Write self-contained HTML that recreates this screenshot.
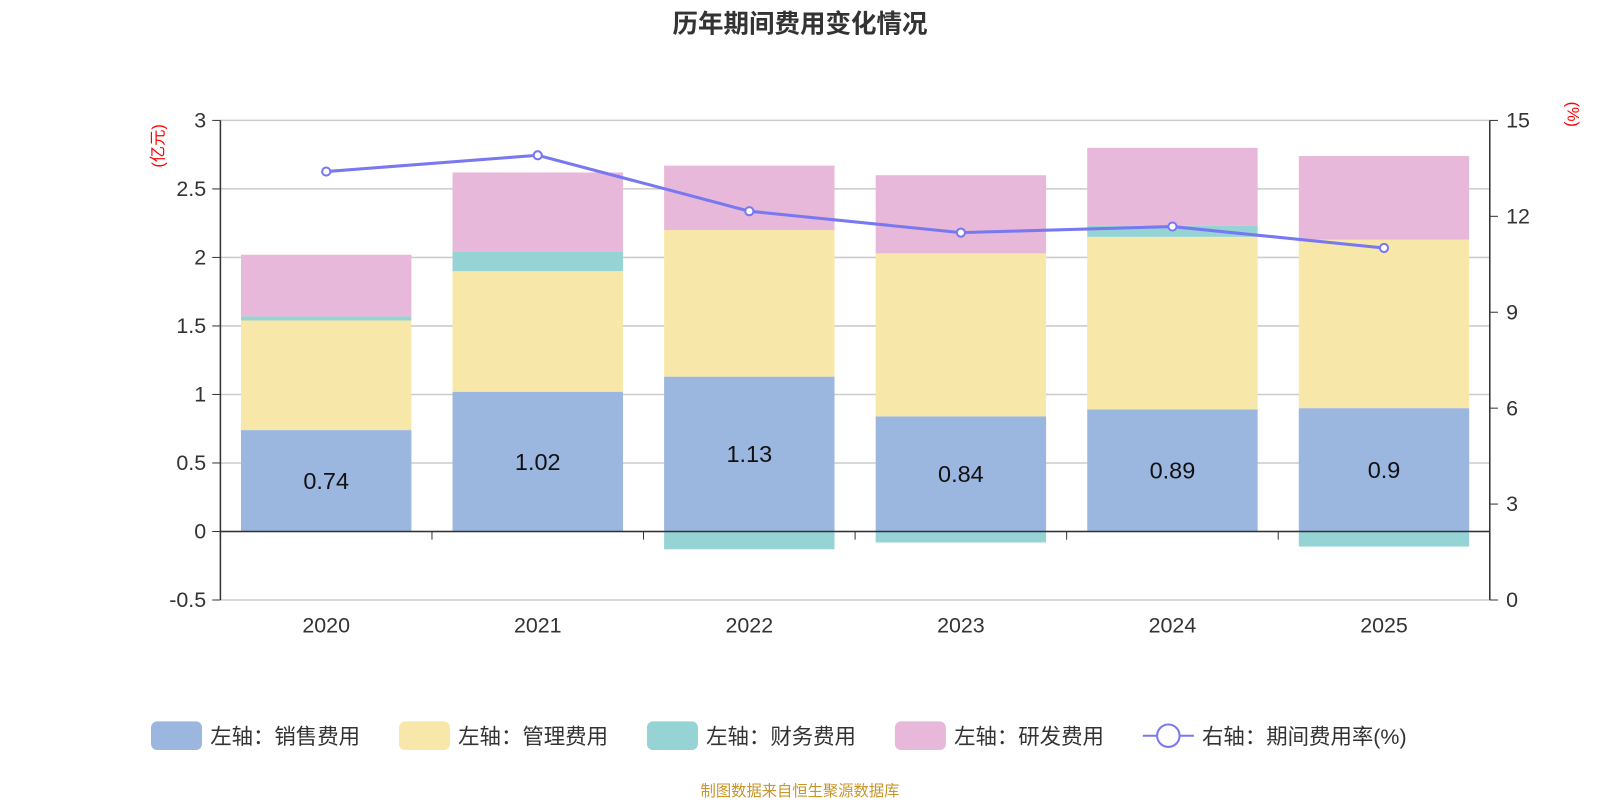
<!DOCTYPE html>
<html><head><meta charset="utf-8"><style>
body{margin:0;background:#fff;font-family:"Liberation Sans","Noto Sans CJK SC",sans-serif}
svg text{font-family:"Liberation Sans","Noto Sans CJK SC",sans-serif}
</style></head><body>
<svg id="c" width="1600" height="800">
<g transform="scale(1.0204)">
<text x="784" y="32" text-anchor="middle" font-size="25" font-weight="bold" fill="#333">历年期间费用变化情况</text>
<text transform="translate(160,143) rotate(-90)" text-anchor="middle" font-size="16" fill="#f00">(亿元)</text>
<text transform="translate(1536,112) rotate(90)" text-anchor="middle" font-size="16" fill="#f00">(%)</text>
<g id="grid"></g><g id="bars"></g><g id="axes"></g><g id="line"></g>
<g id="legend"></g>
<text x="784" y="780" text-anchor="middle" font-size="15" fill="#c8962a">制图数据来自恒生聚源数据库</text>
</g>
</svg>
<script>
const years=["2020","2021","2022","2023","2024","2025"];
const sales=[0.74,1.02,1.13,0.84,0.89,0.90];
const mgmt=[0.80,0.88,1.07,1.19,1.26,1.23];
const fin=[0.03,0.14,-0.13,-0.08,0.08,-0.11];
const rnd=[0.45,0.58,0.47,0.57,0.57,0.61];
const rate=[13.40,13.91,12.16,11.49,11.68,11.01];
const leftTicks=[-0.5,0,0.5,1,1.5,2,2.5,3];
const rightTicks=[0,3,6,9,12,15];
const L=216,R=1460,T=118,B=588;
const yL=v=>B-(v+0.5)/3.5*(B-T);
const yR=v=>B-v/15*(B-T);
const bw=(R-L)/years.length;
const xc=i=>L+bw*(i+0.5);
const NS="http://www.w3.org/2000/svg";
function mk(p,t,a){const e=document.createElementNS(NS,t);for(const k in a)e.setAttribute(k,a[k]);document.getElementById(p).appendChild(e);return e;}
leftTicks.forEach((v,i)=>{
 const g=mk('grid','line',{x1:L,x2:R,y1:yL(v),y2:yL(v),stroke:'#ccc','stroke-width':1.5});
 
 
 mk('axes','line',{x1:L-8,x2:L,y1:yL(v),y2:yL(v),stroke:'#333'});
 const t=mk('axes','text',{x:L-14,y:yL(v)+7,'text-anchor':'end','font-size':21,fill:'#333'});t.textContent=v;
 
 
});
rightTicks.forEach(v=>{
 mk('axes','line',{x1:R,x2:R+8,y1:yR(v),y2:yR(v),stroke:'#333'});
 const t=mk('axes','text',{x:R+16,y:yR(v)+7,'font-size':21,fill:'#333'});t.textContent=v;
 
 
});
mk('axes','line',{x1:L,x2:L,y1:T,y2:B,stroke:'#333','stroke-width':1.5});
mk('axes','line',{x1:R,x2:R,y1:T,y2:B,stroke:'#333','stroke-width':1.5});
mk('axes','line',{x1:L,x2:R,y1:yL(0),y2:yL(0),stroke:'#333','stroke-width':1.5});
for(let i=0;i<=years.length;i++)mk('axes','line',{x1:L+bw*i,x2:L+bw*i,y1:yL(0),y2:yL(0)+8,stroke:'#333'});
const w=167;
years.forEach((y,i)=>{
 const x=xc(i)-w/2;let pos=0,neg=0;
 const segs=[[sales[i],'#9bb7e0','bar-sales'],[mgmt[i],'#f7e7a8','bar-management'],[fin[i],'#95d3d4','bar-finance'],[rnd[i],'#e7b8d9','bar-rnd']];
 segs.forEach(([v,c,n])=>{
  let y0,y1;
  if(v>=0){y0=pos;y1=pos+v;pos=y1;}else{y0=neg;y1=neg+v;neg=y1;}
  const r=mk('bars','rect',{x:x,width:w,y:yL(Math.max(y0,y1)),height:Math.abs(yL(y0)-yL(y1)),fill:c});
  
  
 });
 const t=mk('bars','text',{x:xc(i),y:yL(sales[i]/2)+8,'text-anchor':'middle','font-size':23,fill:'#111'});t.textContent=sales[i];
 
 
 const xl=mk('axes','text',{x:xc(i),y:620,'text-anchor':'middle','font-size':21,fill:'#333'});xl.textContent=y;
 
 
});
const pl=mk('line','polyline',{points:rate.map((v,i)=>xc(i)+','+yR(v)).join(' '),fill:'none',stroke:'#7878f0','stroke-width':3});


rate.forEach((v,i)=>{const c=mk('line','circle',{cx:xc(i),cy:yR(v),r:4,fill:'#fff',stroke:'#7878f0','stroke-width':2});
 
 });
const leg=[['左轴：销售费用','#9bb7e0',148],['左轴：管理费用','#f7e7a8',391],['左轴：财务费用','#95d3d4',634],['左轴：研发费用','#e7b8d9',877]];
leg.forEach(([t,c,x])=>{
 const r=mk('legend','rect',{x:x,y:707,width:50,height:28,rx:6,fill:c});
 
 
 const tx=mk('legend','text',{x:x+58,y:729,'font-size':21,fill:'#333'});tx.textContent=t;
 
 
});
mk('legend','line',{x1:1120,x2:1170,y1:721,y2:721,stroke:'#7878f0','stroke-width':2});
mk('legend','circle',{cx:1145,cy:721,r:11,fill:'#fff',stroke:'#7878f0','stroke-width':2});
const lt=mk('legend','text',{x:1178,y:729,'font-size':21,fill:'#333'});lt.textContent='右轴：期间费用率(%)';


</script>
</body></html>
